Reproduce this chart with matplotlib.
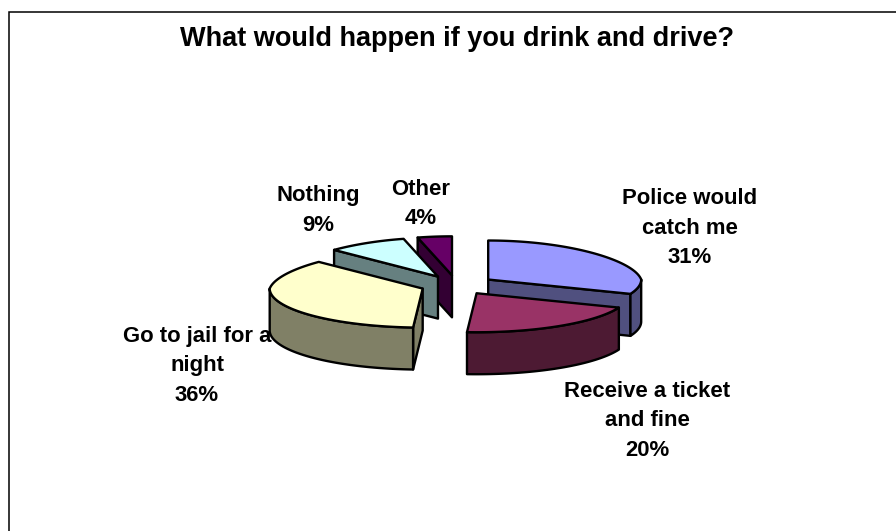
import numpy as np
import matplotlib
matplotlib.use("Agg")
import matplotlib.pyplot as plt
from matplotlib.patches import Polygon

plt.rcParams['font.family'] = ['Liberation Sans', 'DejaVu Sans']

# --- data ---
title = "What would happen if you drink and drive?"
categories = ["Police would\ncatch me", "Receive a ticket\nand fine", "Go to jail for a\nnight", "Nothing", "Other"]
values = [31, 20, 36, 9, 4]

# --- style ---
top_colors = ["#9999FF", "#993366", "#FFFFCC", "#CCFFFF", "#660066"]
wall_colors = ["#50507F", "#4D1A33", "#808066", "#668080", "#330033"]
explode_x = [0.286, 0.30, 0.206, 0.18, 0.0]
explode_y = 0.25
draw_order = [4, 3, 0, 2, 1]
label_pos = [(690, 228), (647, 421), (197, 366), (318, 210.5), (421, 204)]
CX, CY, RX, RY, DEPTH, TAPER = 452, 285, 153, 39, 42, 0.10
LW = 1.7

fig = plt.figure(figsize=(8.96, 5.31), dpi=100)
ax = fig.add_axes([0, 0, 1, 1])
ax.set_xlim(0, 896)
ax.set_ylim(531, 0)
ax.axis("off")

# chart frame
ax.plot([8.5, 8.5, 896], [531, 11.5, 11.5], color="black", lw=1.1, zorder=1, solid_joinstyle="miter")


def rim(t):
    """Unit-slice rim offset for angle t (degrees, clockwise from 12 o'clock)."""
    r = np.radians(t)
    c = np.cos(r)
    sc = 1 - TAPER * np.clip(c, 0, None)
    return RX * np.sin(r) * sc, -RY * c


total = sum(values)
angles = np.concatenate([[0], np.cumsum(values)]) * 360 / total


def slice_parts(i):
    t0, t1 = angles[i], angles[i + 1]
    mid = np.radians((t0 + t1) / 2)
    cx = CX + explode_x[i] * RX * np.sin(mid)
    cy = CY - explode_y * RY * np.cos(mid)
    ts = np.linspace(t0, t1, 120)
    ax_, ay_ = rim(ts)
    top = np.column_stack([np.r_[cx, cx + ax_], np.r_[cy, cy + ay_]])

    faces = []
    for t, vis in ((t0, np.sin(np.radians(t0)) < -1e-9), (t1, np.sin(np.radians(t1)) > 1e-9)):
        if vis:
            dx, dy = rim(t)
            faces.append(np.array([[cx, cy], [cx + dx, cy + dy],
                                   [cx + dx, cy + dy + DEPTH], [cx, cy + DEPTH]]))
    a, b = max(t0, 90), min(t1, 270)
    if b > a:
        tw = np.linspace(a, b, 100)
        wx, wy = rim(tw)
        faces.append(np.column_stack([np.r_[cx + wx, (cx + wx)[::-1]],
                                      np.r_[cy + wy, (cy + wy + DEPTH)[::-1]]]))
    return top, faces


ax.text(457, 39.5, title, ha="center", va="center", fontsize=19.5, fontweight="bold", zorder=1)
for name, v, (lx, ly) in zip(categories, values, label_pos):
    ax.text(lx, ly, f"{name}\n{v}%", ha="center", va="center", fontsize=15.9,
            fontweight="bold", linespacing=1.52, zorder=1)

for z, i in enumerate(draw_order):
    top, faces = slice_parts(i)
    for f in faces:
        ax.add_patch(Polygon(f, closed=True, fc=wall_colors[i], ec="black", lw=LW,
                             joinstyle="round", zorder=2 + z * 0.1))
    ax.add_patch(Polygon(top, closed=True, fc=top_colors[i], ec="black", lw=LW,
                         joinstyle="round", zorder=2 + z * 0.1 + 0.05))

fig.savefig("out.png", dpi=100, facecolor="white")
